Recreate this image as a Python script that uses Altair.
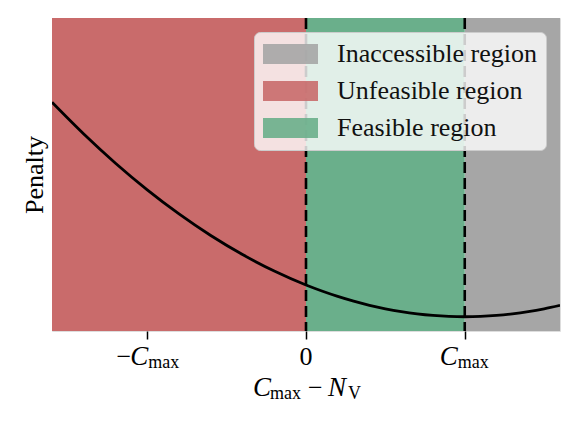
import altair as alt
import pandas as pd

# ---- data ----
x_curve = [-1.6, -1.4, -1.2, -1.0, -0.8, -0.6, -0.4, -0.2, 0.0, 0.1, 0.2, 0.3, 0.4, 0.5, 0.6, 0.7,
           0.8, 0.9, 1.0, 1.1, 1.2, 1.3, 1.4, 1.5, 1.6]
penalty = [6.76, 5.76, 4.84, 4.0, 3.24, 2.56, 1.96, 1.44, 1.0, 0.81, 0.64, 0.49, 0.36, 0.25, 0.16, 0.09,
           0.04, 0.01, 0.0, 0.01, 0.04, 0.09, 0.16, 0.25, 0.36]

region_names = ["Inaccessible region", "Unfeasible region", "Feasible region"]
region_start = [1.0, -1.6, 0.0]
region_end = [1.6, 0.0, 1.0]
region_colors = ["#A6A6A6", "#C96B6B", "#6AAF8B"]

boundaries = [0.0, 1.0]
x_domain = [-1.6, 1.6]
y_domain = [-0.45, 9.42]

tick_values = [-1, 0, 1]
tick_prefix = ["\u2212", "0", ""]
tick_symbol = ["C", "", "C"]
tick_sub = ["max", "", "max"]

y_title = "Penalty"
x_title_parts = ["C", "max", "\u2212", "N", "V"]

# ---- layout / style ----
W, H = 508, 313
FONT = "Liberation Serif"
FS = 26
SFS = 18

curve_df = pd.DataFrame({"x": x_curve, "p": penalty})
regions_df = pd.DataFrame({"name": region_names, "x0": region_start, "x1": region_end})
bound_df = pd.DataFrame({"x": boundaries})

xs = alt.Scale(domain=x_domain, nice=False, zero=False)
ys = alt.Scale(domain=y_domain, nice=False, zero=False)

# 55 x 20 px patch (symbol radius 10 -> unit = 10 px)
legend_shape = "M-1.3,-1L4.2,-1L4.2,1L-1.3,1Z"

regions = alt.Chart(regions_df).mark_rect(opacity=1).encode(
    x=alt.X("x0:Q", scale=xs,
            axis=alt.Axis(values=tick_values, labels=False, ticks=True, tickSize=8,
                          tickWidth=1.5, tickColor="black", domain=False, grid=False, title=None)),
    x2="x1:Q",
    color=alt.Color("name:N",
                    scale=alt.Scale(domain=region_names, range=region_colors),
                    legend=alt.Legend(orient="none", legendX=202, legendY=14, title=None,
                                      labelFont=FONT, labelFontSize=FS, labelColor="#111111",
                                      labelLimit=400,
                                      symbolType=legend_shape, symbolSize=400,
                                      symbolStrokeWidth=0, symbolOpacity=0.9,
                                      labelOffset=48, rowPadding=11, padding=9,
                                      fillColor="rgba(255,255,255,0.8)", strokeColor="#cccccc",
                                      cornerRadius=6, zindex=5)),
)

rules = alt.Chart(bound_df).mark_rule(color="black", strokeWidth=2.6, strokeDash=[11, 5]).encode(
    x=alt.X("x:Q", scale=xs)
)

curve = alt.Chart(curve_df).mark_line(color="black", strokeWidth=2.8, interpolate="monotone", clip=True).encode(
    x=alt.X("x:Q", scale=xs),
    y=alt.Y("p:Q", scale=ys,
            axis=alt.Axis(labels=False, ticks=False, grid=False, domain=False, title=y_title,
                          titleFont=FONT, titleFontSize=FS, titleFontWeight="normal",
                          titleColor="black", titlePadding=5)),
)

layers = [regions, rules, curve]

# tick labels, built from the arrays
label_base = H + 34
split = {-1: 1, 0: 0, 1: -7}
for v, pre, sym, sub in zip(tick_values, tick_prefix, tick_symbol, tick_sub):
    d = pd.DataFrame({"x": [v]})
    s = split[v]
    if sym:
        layers.append(alt.Chart(d).mark_text(text=sym, font=FONT, fontSize=FS + 1, fontStyle="italic",
                                             align="right", baseline="alphabetic", dx=s, color="black")
                      .encode(x=alt.X("x:Q", scale=xs), y=alt.value(label_base)))
        layers.append(alt.Chart(d).mark_text(text=sub, font=FONT, fontSize=SFS,
                                             align="left", baseline="alphabetic", dx=s, color="black")
                      .encode(x=alt.X("x:Q", scale=xs), y=alt.value(label_base + 3)))
        if pre:
            layers.append(alt.Chart(d).mark_text(text=pre, font=FONT, fontSize=FS,
                                                 align="right", baseline="alphabetic", dx=s - 17, color="black")
                          .encode(x=alt.X("x:Q", scale=xs), y=alt.value(label_base)))
    else:
        layers.append(alt.Chart(d).mark_text(text=pre, font=FONT, fontSize=FS,
                                             align="center", baseline="alphabetic", color="black")
                      .encode(x=alt.X("x:Q", scale=xs), y=alt.value(label_base)))

# x title  C_max - N_V
title_base = H + 65
cx = W / 2
offsets = [-53, -36, 2, 22, 42]
italic = [True, False, False, True, False]
subs = [False, True, False, False, True]
anchor = pd.DataFrame({"k": [0]})
for txt, off, it, sb in zip(x_title_parts, offsets, italic, subs):
    layers.append(alt.Chart(anchor).mark_text(text=txt, font=FONT, fontSize=SFS if sb else FS + (1 if it else 0),
                                              fontStyle="italic" if it else "normal",
                                              align="left", baseline="alphabetic", color="black")
                  .encode(x=alt.value(cx + off), y=alt.value(title_base + (3 if sb else 0))))

chart = alt.layer(*layers).properties(
    width=W, height=H,
    autosize=alt.AutoSizeParams(type="none"),
    padding={"left": 44, "top": 10, "right": 11, "bottom": 86},
).configure_view(stroke="black", strokeWidth=1.5).configure(background="white")

chart.save("out.html", embed_options={"renderer": "svg", "actions": False})
